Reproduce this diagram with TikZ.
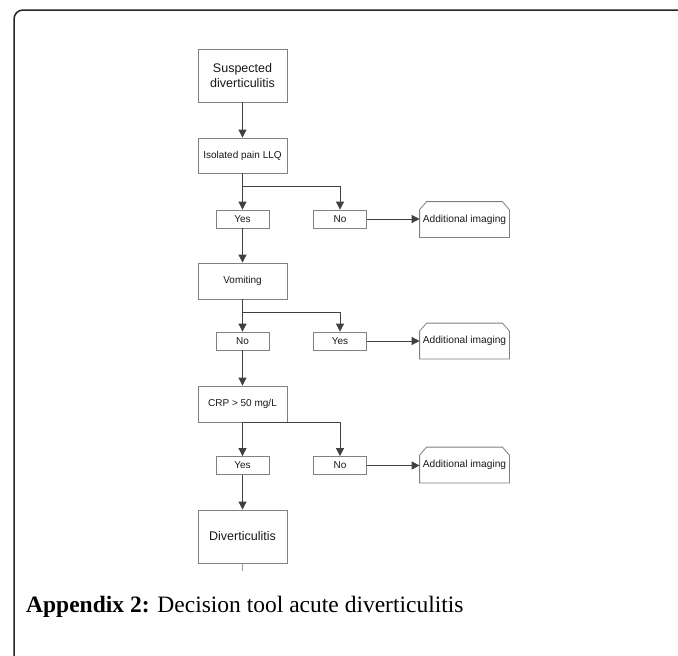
\documentclass[tikz,border=0pt]{standalone}
\usepackage{fontspec}
\setmainfont{Liberation Serif}
\setsansfont{Liberation Sans}
\usetikzlibrary{arrows.meta}
\newcommand\chamfbox[1]{\draw[boxline] (#1.south west) -- ([yshift=-8pt]#1.north west)
  -- ([xshift=7pt]#1.north west) -- ([xshift=-7pt]#1.north east)
  -- ([yshift=-8pt]#1.north east) -- (#1.south east) -- cycle;}
\begin{document}
\begin{tikzpicture}[x=1pt,y=-1pt,
  boxline/.style={draw=black!50, line width=0.8pt},
  box/.style={boxline, fill=white, text=black!90,
    font=\sffamily\fontsize{10}{12}\selectfont, inner sep=0pt, align=center},
  bigbox/.style={box, minimum width=89pt, minimum height=53pt,
    font=\sffamily\fontsize{12.5}{15}\selectfont},
  midbox/.style={box, minimum width=89pt, minimum height=36pt},
  smallbox/.style={box, minimum width=53pt, minimum height=18pt},
  imgbox/.style={box, draw=none, fill=none, minimum width=89pt, minimum height=35pt,
    font=\sffamily\fontsize{10.2}{12}\selectfont},
  conn/.style={draw=black!75, line width=0.8pt},
  arr/.style={conn, -{Triangle[length=8pt,width=8pt]}},
]
\useasboundingbox (0,0) rectangle (678,656);
\draw[line width=1.5pt, black!85, rounded corners=9pt] (14,656) -- (14,10) -- (678,10);

% level 1
\node[bigbox] (s) at (242.5,75.5) {Suspected\\diverticulitis};
\node[midbox, minimum height=35pt] (iso) at (242.5,155.5) {Isolated pain LLQ};
\node[smallbox] (y1) at (242.5,219) {Yes};
\node[smallbox] (n1) at (340,219) {No};
\node[imgbox] (i1) at (464.5,219.5) {Additional imaging};
\chamfbox{i1}
\coordinate (b1) at (242.5,186);

% level 2
\node[midbox] (vom) at (242.5,281) {Vomiting};
\node[smallbox] (n2) at (242.5,341) {No};
\node[smallbox] (y2) at (340,341) {Yes};
\node[imgbox] (i2) at (464.5,341) {Additional imaging};
\chamfbox{i2}
\coordinate (b2) at (242.5,312);

% level 3
\node[midbox] (crp) at (242.5,404) {CRP \textgreater{} 50 mg/L};
\node[smallbox] (y3) at (242.5,465.5) {Yes};
\node[smallbox] (n3) at (340,465.5) {No};
\node[imgbox] (i3) at (464.5,465) {Additional imaging};
\chamfbox{i3}

\node[bigbox] (div) at (242.5,536.5) {Diverticulitis};
\coordinate (stub) at (242.5,571);

% connectors
\draw[arr] (s) -- (iso);
\draw[arr] (iso) -- (y1);
\draw[arr] (b1) -| (n1);
\draw[arr] (n1) -- (n1 -| i1.west);
\draw[arr] (y1) -- (vom);
\draw[arr] (vom) -- (n2);
\draw[arr] (b2) -| (y2);
\draw[arr] (y2) -- (y2 -| i2.west);
\draw[arr] (n2) -- (crp);
\draw[arr] (crp) -- (y3);
\draw[arr] (crp.south) -| (n3);
\draw[arr] (n3) -- (n3 -| i3.west);
\draw[arr] (y3) -- (div);
\draw[draw=black!40, line width=0.5pt] (div.south) -- (stub);

\node[anchor=base west, inner sep=0pt, font=\fontsize{23.5}{28}\selectfont] (cap) at (26,612)
  {\textbf{Appendix 2:} Decision tool acute diverticulitis};
\end{tikzpicture}
\end{document}
